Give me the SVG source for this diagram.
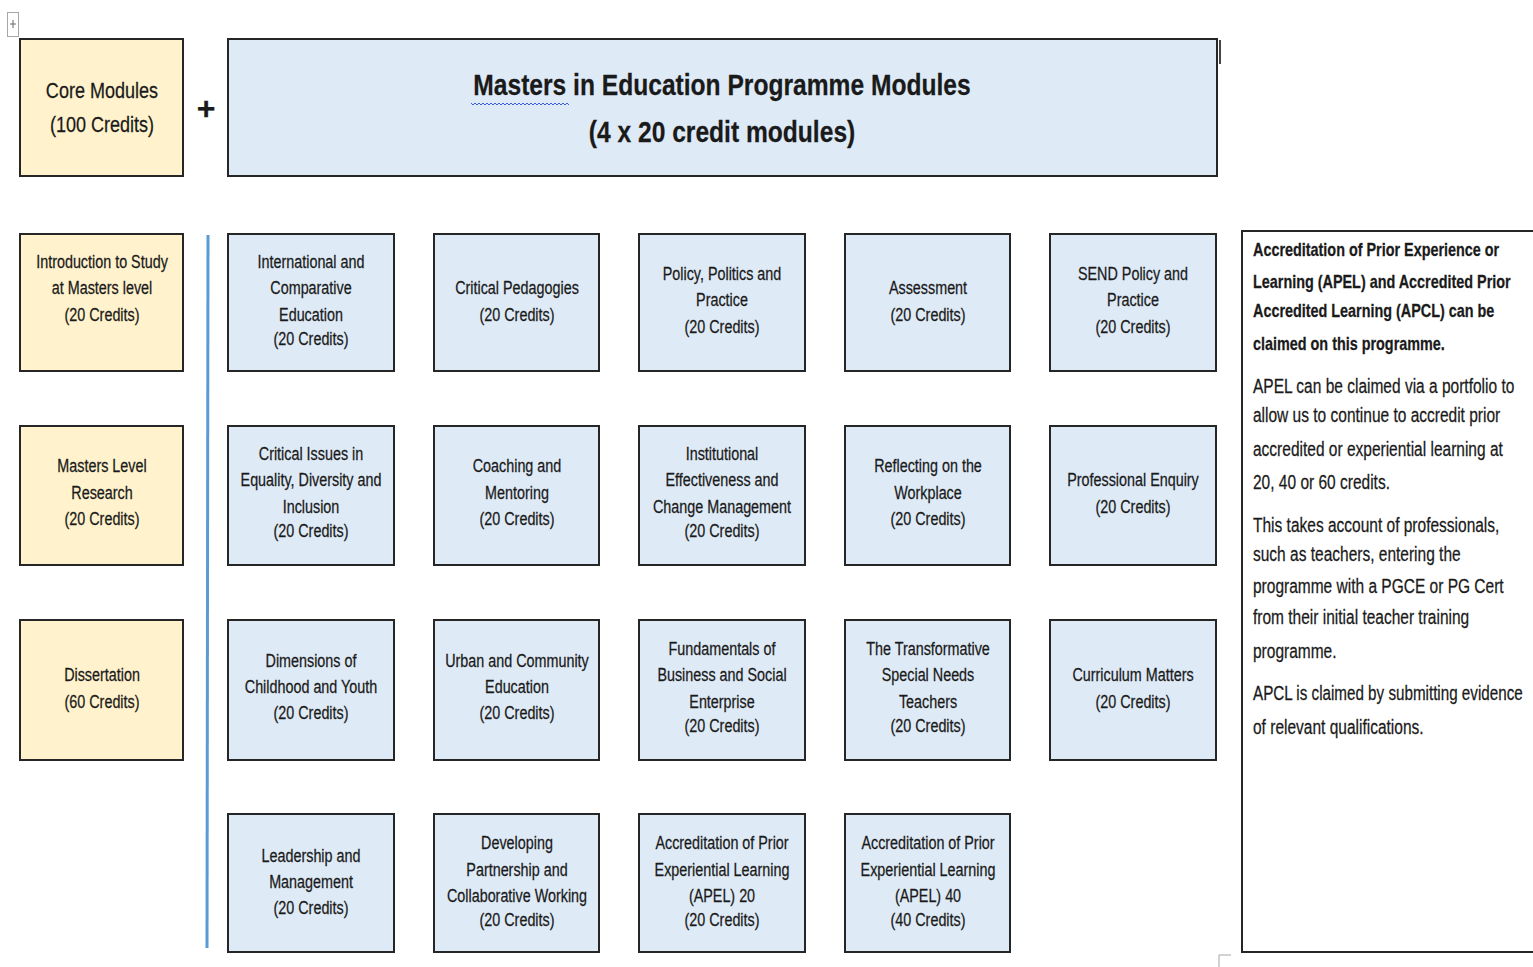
<svg xmlns="http://www.w3.org/2000/svg" width="1533" height="967" viewBox="0 0 1533 967">
<style>
.core{fill:#FFF2CC;stroke:#262626;stroke-width:2}
.mod{fill:#DEEAF6;stroke:#262626;stroke-width:2}
text{font-family:"Liberation Sans",Arial,sans-serif;fill:#1a1a1a;stroke:#1a1a1a;stroke-width:0.25}
.t{font-size:17.5px;text-anchor:middle;dominant-baseline:central}
.tc{font-size:22px;text-anchor:middle;dominant-baseline:central}
.h{font-size:30px;font-weight:bold;text-anchor:middle;dominant-baseline:central}
.r{font-size:19.5px;dominant-baseline:central}
.rb{font-size:18px;font-weight:bold;dominant-baseline:central}
</style>
<rect width="1533" height="967" fill="#ffffff"/>
<g id="handle">
<rect x="7.5" y="12.5" width="11" height="24" fill="#fff" stroke="#a6a6a6" stroke-width="1"/>
<path d="M10 24 H16 M13 20 V28" stroke="#666" stroke-width="1" fill="none"/>
</g>
<g id="core-modules">
<rect class="core" x="20" y="39" width="163" height="137"/>
<text class="tc" transform="matrix(0.82 0 0 1 102 90)">Core Modules</text>
<text class="tc" transform="matrix(0.82 0 0 1 102 124)">(100 Credits)</text>
</g>
<g id="plus"><text x="206" y="108" style="font-size:32px;font-weight:bold;text-anchor:middle;dominant-baseline:central">+</text></g>
<g id="header">
<rect class="mod" x="228" y="39" width="989" height="137"/>
<text class="h" transform="matrix(0.82 0 0 1 722 85)">Masters in Education Programme Modules</text>
<text class="h" transform="matrix(0.82 0 0 1 722 132)">(4 x 20 credit modules)</text>
<path d="M471 103 l2 2 l2 -2 l2 2 l2 -2 l2 2 l2 -2 l2 2 l2 -2 l2 2 l2 -2 l2 2 l2 -2 l2 2 l2 -2 l2 2 l2 -2 l2 2 l2 -2 l2 2 l2 -2 l2 2 l2 -2 l2 2 l2 -2 l2 2 l2 -2 l2 2 l2 -2 l2 2 l2 -2 l2 2 l2 -2 l2 2 l2 -2 l2 2 l2 -2 l2 2 l2 -2 l2 2 l2 -2 l2 2 l2 -2 l2 2 l2 -2 l2 2 l2 -2 l2 2 l2 -2 l2 2" fill="none" stroke="#3b5bdb" stroke-width="1"/>
<line x1="1220" y1="40" x2="1220" y2="64" stroke="#444" stroke-width="2"/>
</g>
<g id="connectors">
<line x1="208" y1="235" x2="207" y2="948" stroke="#5B9BD5" stroke-width="3"/>
</g>
<g id="intro">
<rect class="core" x="20" y="234" width="163" height="137"/>
<text class="t" transform="matrix(0.82 0 0 1 102 262)">Introduction to Study</text>
<text class="t" transform="matrix(0.82 0 0 1 102 288)">at Masters level</text>
<text class="t" transform="matrix(0.82 0 0 1 102 315)">(20 Credits)</text>
</g>
<g id="research">
<rect class="core" x="20" y="426" width="163" height="139"/>
<text class="t" transform="matrix(0.82 0 0 1 102 466)">Masters Level</text>
<text class="t" transform="matrix(0.82 0 0 1 102 493)">Research</text>
<text class="t" transform="matrix(0.82 0 0 1 102 519)">(20 Credits)</text>
</g>
<g id="dissertation">
<rect class="core" x="20" y="620" width="163" height="140"/>
<text class="t" transform="matrix(0.82 0 0 1 102 675)">Dissertation</text>
<text class="t" transform="matrix(0.82 0 0 1 102 702)">(60 Credits)</text>
</g>
<g id="m-international">
<rect class="mod" x="228" y="234" width="166" height="137"/>
<text class="t" transform="matrix(0.82 0 0 1 311 262)">International and</text>
<text class="t" transform="matrix(0.82 0 0 1 311 288)">Comparative</text>
<text class="t" transform="matrix(0.82 0 0 1 311 315)">Education</text>
<text class="t" transform="matrix(0.82 0 0 1 311 339)">(20 Credits)</text>
</g>
<g id="m-critical-pedagogies">
<rect class="mod" x="434" y="234" width="165" height="137"/>
<text class="t" transform="matrix(0.82 0 0 1 517 288)">Critical Pedagogies</text>
<text class="t" transform="matrix(0.82 0 0 1 517 315)">(20 Credits)</text>
</g>
<g id="m-policy">
<rect class="mod" x="639" y="234" width="166" height="137"/>
<text class="t" transform="matrix(0.82 0 0 1 722 274)">Policy, Politics and</text>
<text class="t" transform="matrix(0.82 0 0 1 722 300)">Practice</text>
<text class="t" transform="matrix(0.82 0 0 1 722 327)">(20 Credits)</text>
</g>
<g id="m-assessment">
<rect class="mod" x="845" y="234" width="165" height="137"/>
<text class="t" transform="matrix(0.82 0 0 1 928 288)">Assessment</text>
<text class="t" transform="matrix(0.82 0 0 1 928 315)">(20 Credits)</text>
</g>
<g id="m-send">
<rect class="mod" x="1050" y="234" width="166" height="137"/>
<text class="t" transform="matrix(0.82 0 0 1 1133 274)">SEND Policy and</text>
<text class="t" transform="matrix(0.82 0 0 1 1133 300)">Practice</text>
<text class="t" transform="matrix(0.82 0 0 1 1133 327)">(20 Credits)</text>
</g>
<g id="m-critical-issues">
<rect class="mod" x="228" y="426" width="166" height="139"/>
<text class="t" transform="matrix(0.82 0 0 1 311 454)">Critical Issues in</text>
<text class="t" transform="matrix(0.82 0 0 1 311 480)">Equality, Diversity and</text>
<text class="t" transform="matrix(0.82 0 0 1 311 507)">Inclusion</text>
<text class="t" transform="matrix(0.82 0 0 1 311 531)">(20 Credits)</text>
</g>
<g id="m-coaching">
<rect class="mod" x="434" y="426" width="165" height="139"/>
<text class="t" transform="matrix(0.82 0 0 1 517 466)">Coaching and</text>
<text class="t" transform="matrix(0.82 0 0 1 517 493)">Mentoring</text>
<text class="t" transform="matrix(0.82 0 0 1 517 519)">(20 Credits)</text>
</g>
<g id="m-institutional">
<rect class="mod" x="639" y="426" width="166" height="139"/>
<text class="t" transform="matrix(0.82 0 0 1 722 454)">Institutional</text>
<text class="t" transform="matrix(0.82 0 0 1 722 480)">Effectiveness and</text>
<text class="t" transform="matrix(0.82 0 0 1 722 507)">Change Management</text>
<text class="t" transform="matrix(0.82 0 0 1 722 531)">(20 Credits)</text>
</g>
<g id="m-reflecting">
<rect class="mod" x="845" y="426" width="165" height="139"/>
<text class="t" transform="matrix(0.82 0 0 1 928 466)">Reflecting on the</text>
<text class="t" transform="matrix(0.82 0 0 1 928 493)">Workplace</text>
<text class="t" transform="matrix(0.82 0 0 1 928 519)">(20 Credits)</text>
</g>
<g id="m-enquiry">
<rect class="mod" x="1050" y="426" width="166" height="139"/>
<text class="t" transform="matrix(0.82 0 0 1 1133 480)">Professional Enquiry</text>
<text class="t" transform="matrix(0.82 0 0 1 1133 507)">(20 Credits)</text>
</g>
<g id="m-dimensions">
<rect class="mod" x="228" y="620" width="166" height="140"/>
<text class="t" transform="matrix(0.82 0 0 1 311 661)">Dimensions of</text>
<text class="t" transform="matrix(0.82 0 0 1 311 687)">Childhood and Youth</text>
<text class="t" transform="matrix(0.82 0 0 1 311 713)">(20 Credits)</text>
</g>
<g id="m-urban">
<rect class="mod" x="434" y="620" width="165" height="140"/>
<text class="t" transform="matrix(0.82 0 0 1 517 661)">Urban and Community</text>
<text class="t" transform="matrix(0.82 0 0 1 517 687)">Education</text>
<text class="t" transform="matrix(0.82 0 0 1 517 713)">(20 Credits)</text>
</g>
<g id="m-fundamentals">
<rect class="mod" x="639" y="620" width="166" height="140"/>
<text class="t" transform="matrix(0.82 0 0 1 722 649)">Fundamentals of</text>
<text class="t" transform="matrix(0.82 0 0 1 722 675)">Business and Social</text>
<text class="t" transform="matrix(0.82 0 0 1 722 702)">Enterprise</text>
<text class="t" transform="matrix(0.82 0 0 1 722 726)">(20 Credits)</text>
</g>
<g id="m-transformative">
<rect class="mod" x="845" y="620" width="165" height="140"/>
<text class="t" transform="matrix(0.82 0 0 1 928 649)">The Transformative</text>
<text class="t" transform="matrix(0.82 0 0 1 928 675)">Special Needs</text>
<text class="t" transform="matrix(0.82 0 0 1 928 702)">Teachers</text>
<text class="t" transform="matrix(0.82 0 0 1 928 726)">(20 Credits)</text>
</g>
<g id="m-curriculum">
<rect class="mod" x="1050" y="620" width="166" height="140"/>
<text class="t" transform="matrix(0.82 0 0 1 1133 675)">Curriculum Matters</text>
<text class="t" transform="matrix(0.82 0 0 1 1133 702)">(20 Credits)</text>
</g>
<g id="m-leadership">
<rect class="mod" x="228" y="814" width="166" height="138"/>
<text class="t" transform="matrix(0.82 0 0 1 311 856)">Leadership and</text>
<text class="t" transform="matrix(0.82 0 0 1 311 882)">Management</text>
<text class="t" transform="matrix(0.82 0 0 1 311 908)">(20 Credits)</text>
</g>
<g id="m-partnership">
<rect class="mod" x="434" y="814" width="165" height="138"/>
<text class="t" transform="matrix(0.82 0 0 1 517 843)">Developing</text>
<text class="t" transform="matrix(0.82 0 0 1 517 870)">Partnership and</text>
<text class="t" transform="matrix(0.82 0 0 1 517 896)">Collaborative Working</text>
<text class="t" transform="matrix(0.82 0 0 1 517 920)">(20 Credits)</text>
</g>
<g id="m-apel20">
<rect class="mod" x="639" y="814" width="166" height="138"/>
<text class="t" transform="matrix(0.82 0 0 1 722 843)">Accreditation of Prior</text>
<text class="t" transform="matrix(0.82 0 0 1 722 870)">Experiential Learning</text>
<text class="t" transform="matrix(0.82 0 0 1 722 896)">(APEL) 20</text>
<text class="t" transform="matrix(0.82 0 0 1 722 920)">(20 Credits)</text>
</g>
<g id="m-apel40">
<rect class="mod" x="845" y="814" width="165" height="138"/>
<text class="t" transform="matrix(0.82 0 0 1 928 843)">Accreditation of Prior</text>
<text class="t" transform="matrix(0.82 0 0 1 928 870)">Experiential Learning</text>
<text class="t" transform="matrix(0.82 0 0 1 928 896)">(APEL) 40</text>
<text class="t" transform="matrix(0.82 0 0 1 928 920)">(40 Credits)</text>
</g>
<g id="apel-info">
<rect x="1242" y="231" width="310" height="721" fill="#fff" stroke="#262626" stroke-width="2"/>
<text class="rb" transform="matrix(0.8 0 0 1 1253 249)">Accreditation of Prior Experience or</text>
<text class="rb" transform="matrix(0.8 0 0 1 1253 281)">Learning (APEL) and Accredited Prior</text>
<text class="rb" transform="matrix(0.8 0 0 1 1253 310)">Accredited Learning (APCL) can be</text>
<text class="rb" transform="matrix(0.8 0 0 1 1253 343)">claimed on this programme.</text>
<text class="r" transform="matrix(0.795 0 0 1 1253 386)">APEL can be claimed via a portfolio to</text>
<text class="r" transform="matrix(0.795 0 0 1 1253 415)">allow us to continue to accredit prior</text>
<text class="r" transform="matrix(0.795 0 0 1 1253 449)">accredited or experiential learning at</text>
<text class="r" transform="matrix(0.795 0 0 1 1253 482)">20, 40 or 60 credits.</text>
<text class="r" transform="matrix(0.795 0 0 1 1253 525)">This takes account of professionals,</text>
<text class="r" transform="matrix(0.795 0 0 1 1253 554)">such as teachers, entering the</text>
<text class="r" transform="matrix(0.795 0 0 1 1253 586)">programme with a PGCE or PG Cert</text>
<text class="r" transform="matrix(0.795 0 0 1 1253 617)">from their initial teacher training</text>
<text class="r" transform="matrix(0.795 0 0 1 1253 651)">programme.</text>
<text class="r" transform="matrix(0.78 0 0 1 1253 693)">APCL is claimed by submitting evidence</text>
<text class="r" transform="matrix(0.795 0 0 1 1253 727)">of relevant qualifications.</text>
</g>
<g id="corner-mark">
<path d="M1219 967 V955 H1231" fill="none" stroke="#a6a6a6" stroke-width="1"/>
</g>
</svg>
